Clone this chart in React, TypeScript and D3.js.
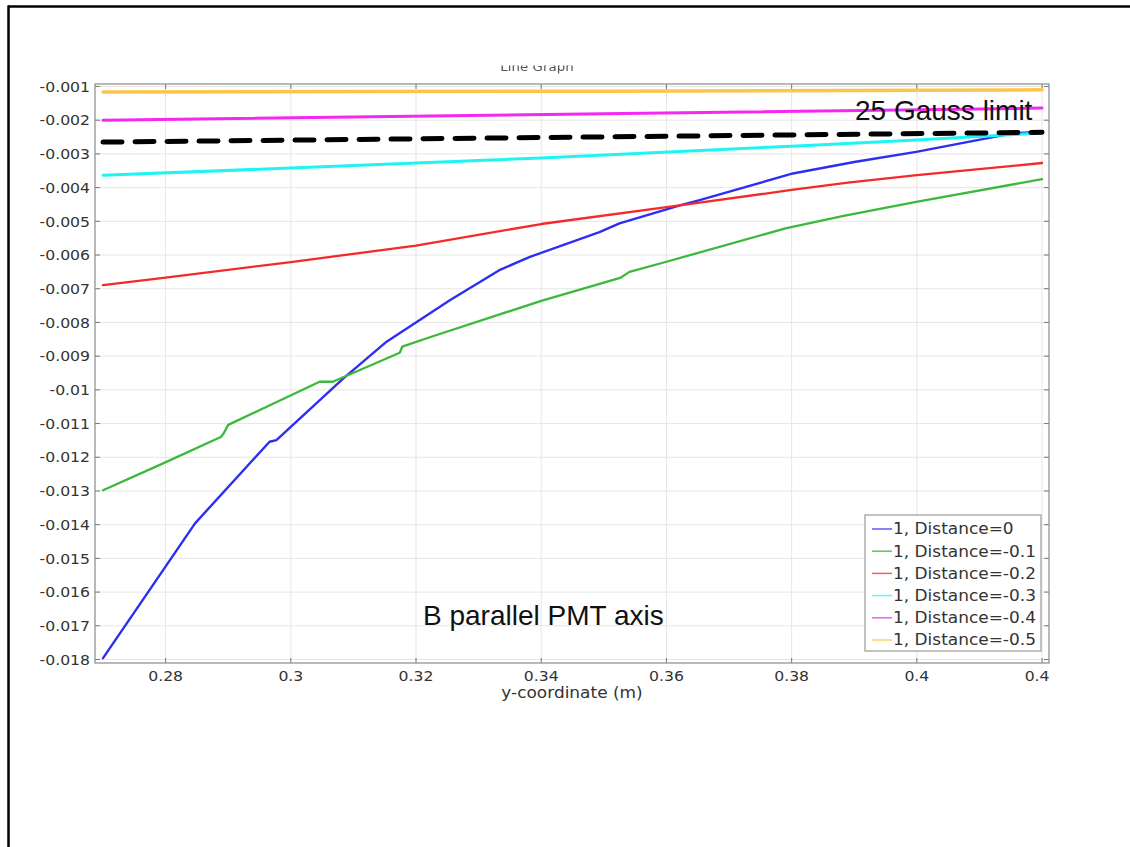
import React from "react";
import * as d3 from "d3";

// Field component along the PMT axis (T) vs. y-coordinate (m), one series per distance
const yCoord0 = [0.27, 0.2847, 0.2966, 0.2977, 0.3084, 0.3153, 0.3254, 0.3333, 0.3381, 0.3493, 0.3525, 0.3623, 0.3653, 0.3802, 0.39, 0.3999, 0.4153, 0.42];
const field0 = [-0.01796, -0.01396, -0.01154, -0.01149, -0.00966, -0.00857, -0.00734, -0.00645, -0.00606, -0.00532, -0.00506, -0.00452, -0.00437, -0.00358, -0.00324, -0.00294, -0.00239, -0.00234];

const yCoord1 = [0.27, 0.2796, 0.2889, 0.2893, 0.29, 0.3046, 0.3067, 0.3174, 0.3178, 0.3222, 0.34, 0.3526, 0.3541, 0.36, 0.379, 0.3885, 0.3999, 0.42];
const field1 = [-0.01298, -0.01218, -0.01139, -0.01128, -0.01104, -0.00976, -0.00976, -0.0089, -0.00872, -0.00844, -0.00736, -0.00668, -0.0065, -0.0062, -0.00521, -0.00483, -0.00442, -0.00375];

const yCoord2 = [0.27, 0.28, 0.3, 0.32, 0.34, 0.3624, 0.38, 0.389, 0.4, 0.42];
const field2 = [-0.00689, -0.00667, -0.00621, -0.00572, -0.00508, -0.00452, -0.00407, -0.00385, -0.00363, -0.00327];

const yCoord3 = [0.27, 0.3, 0.34, 0.38, 0.4, 0.42];
const field3 = [-0.00363, -0.00342, -0.00312, -0.00277, -0.00259, -0.00238];

const yCoord4 = [0.27, 0.35, 0.42];
const field4 = [-0.002, -0.00181, -0.00164];

const yCoord5 = [0.27, 0.35, 0.42];
const field5 = [-0.00116, -0.00114, -0.0011];

// Hand-drawn 25 Gauss reference line
const limitX = [0.27, 0.42];
const limitY = [-0.00265, -0.00236];

const seriesNames = [
  "1, Distance=0",
  "1, Distance=-0.1",
  "1, Distance=-0.2",
  "1, Distance=-0.3",
  "1, Distance=-0.4",
  "1, Distance=-0.5",
];
const seriesColors = ["#2e2ef2", "#3cb83c", "#f42a2a", "#1ff4f4", "#f528f0", "#fcc64c"];
const legendColors = ["#5a5af5", "#66c266", "#f26060", "#5ff5f5", "#f060f0", "#fcd06c"];
const seriesWidths = [2.4, 2.3, 2.3, 3, 3, 3.5];

const xTicks = [0.28, 0.3, 0.32, 0.34, 0.36, 0.38, 0.4, 0.42];
const xTickLabels = ["0.28", "0.3", "0.32", "0.34", "0.36", "0.38", "0.4", "0.42"];
const yTicks = [-0.001, -0.002, -0.003, -0.004, -0.005, -0.006, -0.007, -0.008, -0.009, -0.01, -0.011, -0.012, -0.013, -0.014, -0.015, -0.016, -0.017, -0.018];
const yTickLabels = ["-0.001", "-0.002", "-0.003", "-0.004", "-0.005", "-0.006", "-0.007", "-0.008", "-0.009", "-0.01", "-0.011", "-0.012", "-0.013", "-0.014", "-0.015", "-0.016", "-0.017", "-0.018"];

const W = 1130;
const H = 847;
const plot = { left: 95, right: 1049, top: 84, bottom: 663 };

// Horizontally widened text, as in the exported figure
function WideText(props: {
  x: number;
  y: number;
  anchor?: "start" | "middle" | "end";
  size: number;
  sx?: number;
  dy?: string;
  fill?: string;
  family: string;
  children: React.ReactNode;
}) {
  const { x, y, anchor = "start", size, sx = 1.12, dy, fill = "#333", family, children } = props;
  return (
    <text
      transform={`translate(${x},${y}) scale(${sx},1)`}
      textAnchor={anchor}
      dy={dy}
      fontFamily={family}
      fontSize={size}
      fill={fill}
    >
      {children}
    </text>
  );
}

export default function App() {
  const x = d3.scaleLinear().domain([0.26872, 0.42111]).range([plot.left, plot.right]);
  const y = d3.scaleLinear().domain([-0.000926, -0.018104]).range([plot.top, plot.bottom]);

  const xs = [yCoord0, yCoord1, yCoord2, yCoord3, yCoord4, yCoord5];
  const ys = [field0, field1, field2, field3, field4, field5];
  const line = d3
    .line<[number, number]>()
    .x((d) => x(d[0]))
    .y((d) => y(d[1]));

  const series = xs.map((xv, i) => xv.map((v, j) => [v, ys[i][j]] as [number, number]));
  const limit = limitX.map((v, j) => [v, limitY[j]] as [number, number]);

  const font = "'DejaVu Sans', Verdana, sans-serif";
  const sans = "'Liberation Sans', Arial, sans-serif";
  const legend = { x: 865, y: 515, w: 176, h: 136, row: 22.2 };

  return (
    <svg
      width={W}
      height={H}
      style={{ position: "absolute", left: 0, top: 0, background: "#fff" }}
    >
      <defs>
        <clipPath id="plotClip">
          <rect x={plot.left} y={plot.top} width={plot.right - plot.left} height={plot.bottom - plot.top} />
        </clipPath>
        <clipPath id="titleClip">
          <rect x={400} y={65.5} width={300} height={8} />
        </clipPath>
        <clipPath id="figClip">
          <rect x={0} y={0} width={1050} height={H} />
        </clipPath>
        <filter id="soft" x="-5%" y="-50%" width="110%" height="200%">
          <feGaussianBlur stdDeviation="0.7" />
        </filter>
        <filter id="blurTitle" x="-10%" y="-50%" width="120%" height="200%">
          <feGaussianBlur stdDeviation="0.6" />
        </filter>
      </defs>
      <rect width={W} height={H} fill="#fff" />

      {/* page frame */}
      <line x1={8} y1={6.5} x2={W} y2={6.5} stroke="#000" strokeWidth={2.5} />
      <line x1={8.5} y1={5.5} x2={8.5} y2={H} stroke="#000" strokeWidth={2.5} />

      {/* title, partly cropped */}
      <g clipPath="url(#titleClip)" filter="url(#blurTitle)">
        <WideText x={537} y={71} anchor="middle" size={12} family={font} fill="#555">
          Line Graph
        </WideText>
      </g>

      {/* grid */}
      <g stroke="#e6e6e6" strokeWidth={1}>
        {xTicks.map((t) => (
          <line key={"gx" + t} x1={x(t)} x2={x(t)} y1={plot.top} y2={plot.bottom} />
        ))}
        {yTicks.map((t) => (
          <line key={"gy" + t} x1={plot.left} x2={plot.right} y1={y(t)} y2={y(t)} />
        ))}
      </g>

      {/* ticks on all four sides */}
      <g stroke="#777" strokeWidth={1}>
        {xTicks.map((t) => (
          <g key={"tx" + t}>
            <line x1={x(t)} x2={x(t)} y1={plot.bottom} y2={plot.bottom - 5} />
            <line x1={x(t)} x2={x(t)} y1={plot.top} y2={plot.top + 5} />
          </g>
        ))}
        {yTicks.map((t) => (
          <g key={"ty" + t}>
            <line x1={plot.left} x2={plot.left + 5} y1={y(t)} y2={y(t)} />
            <line x1={plot.right} x2={plot.right - 5} y1={y(t)} y2={y(t)} />
          </g>
        ))}
      </g>

      {/* series */}
      <g clipPath="url(#plotClip)" fill="none" strokeLinejoin="round" strokeLinecap="round">
        {series.map((s, i) => (
          <path key={seriesNames[i]} d={line(s) || ""} stroke={seriesColors[i]} strokeWidth={seriesWidths[i]} />
        ))}
        <path
          d={line(limit) || ""}
          stroke="#000"
          strokeWidth={5}
          strokeDasharray="19 13"
          filter="url(#soft)"
        />
      </g>

      {/* plot frame */}
      <rect
        x={plot.left}
        y={plot.top}
        width={plot.right - plot.left}
        height={plot.bottom - plot.top}
        fill="none"
        stroke="#8a8a8a"
        strokeWidth={1.2}
      />

      {/* tick labels */}
      <g>
        {yTicks.map((t, i) => (
          <WideText key={"ly" + t} x={plot.left - 5} y={y(t)} dy="0.36em" anchor="end" size={14.5} sx={1.08} family={font}>
            {yTickLabels[i]}
          </WideText>
        ))}
        <g clipPath="url(#figClip)">
          {xTicks.map((t, i) => (
            <WideText key={"lx" + t} x={x(t)} y={plot.bottom + 18} anchor="middle" size={14.5} sx={1.08} family={font}>
              {xTickLabels[i]}
            </WideText>
          ))}
        </g>
        <WideText x={572} y={698} anchor="middle" size={15} sx={1.13} family={font}>
          y-coordinate (m)
        </WideText>
      </g>

      {/* annotations */}
      <text x={855} y={120} fontFamily={sans} fontSize={28} fill="#111">
        25 Gauss limit
      </text>
      <text x={423} y={625} fontFamily={sans} fontSize={28} fill="#111">
        B parallel PMT axis
      </text>

      {/* legend */}
      <g>
        <rect x={legend.x} y={legend.y} width={legend.w} height={legend.h} fill="#fff" stroke="#999" strokeWidth={1.2} />
        {seriesNames.map((name, i) => {
          const ly = legend.y + 14 + i * legend.row;
          return (
            <g key={"lg" + name}>
              <line x1={legend.x + 7} x2={legend.x + 27} y1={ly} y2={ly} stroke={legendColors[i]} strokeWidth={1.5} />
              <WideText x={legend.x + 28} y={ly} dy="0.36em" size={15} sx={1.13} family={font}>
                {name}
              </WideText>
            </g>
          );
        })}
      </g>
    </svg>
  );
}
